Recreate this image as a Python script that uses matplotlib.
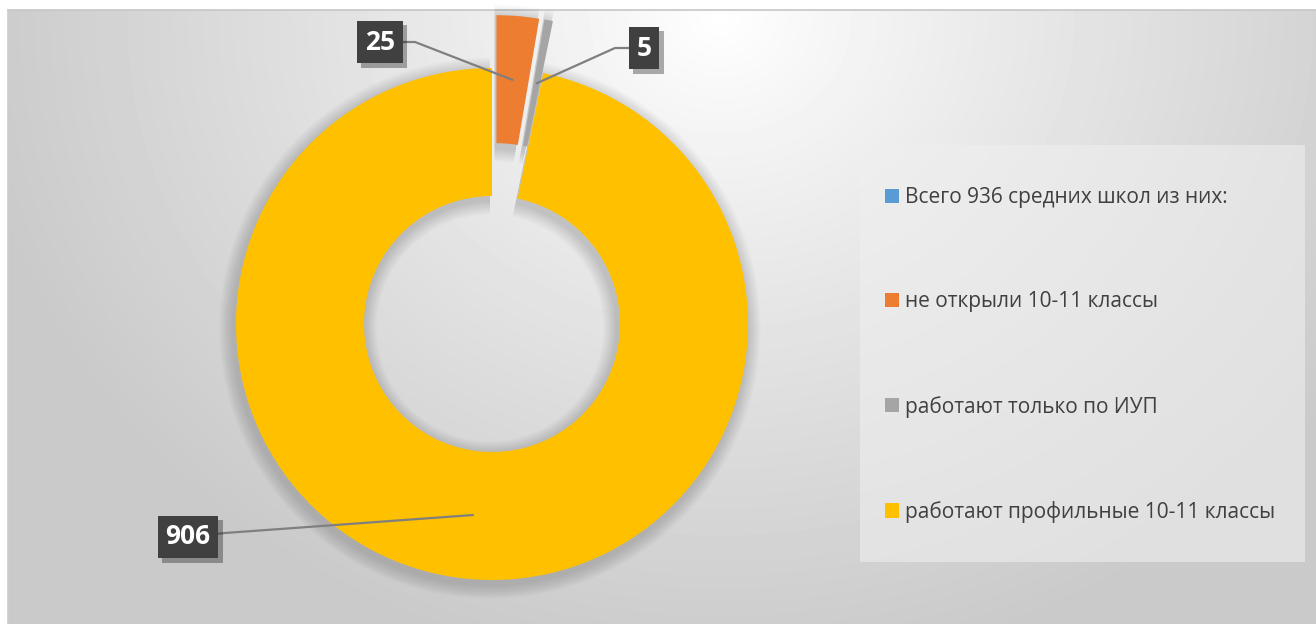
import matplotlib
matplotlib.use("Agg")
import matplotlib.pyplot as plt
import matplotlib.patheffects as pe
from matplotlib.patches import Rectangle
import numpy as np

plt.rcParams["font.family"] = ["Open Sans", "DejaVu Sans"]

# data
categories = [
    "Всего 936 средних школ из них:",
    "не открыли 10-11 классы",
    "работают только по ИУП",
    "работают профильные 10-11 классы",
]
values = [0, 25, 5, 906]
colors = ["#5B9BD5", "#ED7D31", "#A5A5A5", "#FFC000"]

# layout (pixel units, y measured from bottom)
W, H = 1316, 624
CX, CY, R = 492, 300, 256
RING = 128
EXPLODE = [0, 53, 53, 0]
# label box centres and leader elbows (x, y), y from bottom
label_pos = {1: (380, 582), 2: (644, 576), 3: (188, 87)}
elbows = {1: (415, 582), 2: (615, 576), 3: (225, 91)}

fig = plt.figure(figsize=(W / 100, H / 100), dpi=100)
ax = fig.add_axes([0, 0, 1, 1])
ax.set_xlim(0, W)
ax.set_ylim(0, H)
ax.axis("off")

# background: white strip + radial grey gradient
fig.patch.set_facecolor("white")
xx, yy = np.meshgrid(np.arange(8, W), np.arange(0, H - 10))
d = np.hypot(xx - 720, (yy - (H - 20)) * 1.15)
bg = np.clip(1.0 - 0.21 * (d / 760) ** 0.9, 0.79, 1.0)
ax.imshow(bg, cmap="gray", vmin=0, vmax=1, extent=(8, W, 0, H - 10),
          origin="lower", aspect="auto", zorder=0)
ax.plot([8, W], [H - 10, H - 10], color="#c6c6c6", lw=1.2, zorder=1)
ax.plot([8, 8], [0, H - 10], color="#cdcdcd", lw=1.2, zorder=1)

# soft shadow behind the ring
for k in range(10):
    ax.pie(values, radius=R + 2 + k * 1.4, center=(CX - 2, CY - 4), startangle=90,
           counterclock=False, explode=EXPLODE, normalize=True,
           colors=["black"] * 4,
           wedgeprops=dict(width=RING + 4 + k * 2.8, alpha=0.015, lw=0))

wedges, _ = ax.pie(values, radius=R, center=(CX, CY), startangle=90,
                   counterclock=False, explode=EXPLODE, colors=colors,
                   wedgeprops=dict(width=RING, lw=0))
ax.set_xlim(0, W)
ax.set_ylim(0, H)
ax.set_aspect("auto")

# data labels with leader lines
for i, (tx, ty) in label_pos.items():
    w = wedges[i]
    mid = np.deg2rad((w.theta1 + w.theta2) / 2)
    rr = w.r - w.width / 2
    px = w.center[0] + rr * np.cos(mid)
    py = w.center[1] + rr * np.sin(mid)
    ex, ey = elbows[i]
    ax.plot([tx, ex, px], [ty, ey, py], color="#7f7f7f", lw=1.6, zorder=5)
    t = ax.text(tx, ty, str(values[i]), ha="center", va="center", color="white",
                fontsize=19, fontweight="bold", zorder=6,
                bbox=dict(boxstyle="square,pad=0.3", fc="#404040", ec="none"))
    t.get_bbox_patch().set_path_effects(
        [pe.withSimplePatchShadow(offset=(3, -3), alpha=0.35), pe.Normal()])

# legend
ax.add_patch(Rectangle((860, H - 562), 445, 417, fc="#efefef", ec="none",
                       alpha=0.6, zorder=3))
leg = ax.legend(wedges, categories, loc="upper left",
                bbox_to_anchor=(885, H - 187), bbox_transform=ax.transData,
                frameon=False, fontsize=15, handlelength=0.68, handleheight=0.68,
                handletextpad=0.3, labelspacing=4.0, borderpad=0, borderaxespad=0)
for txt in leg.get_texts():
    txt.set_color("#404040")

fig.savefig("out.png", dpi=100)
